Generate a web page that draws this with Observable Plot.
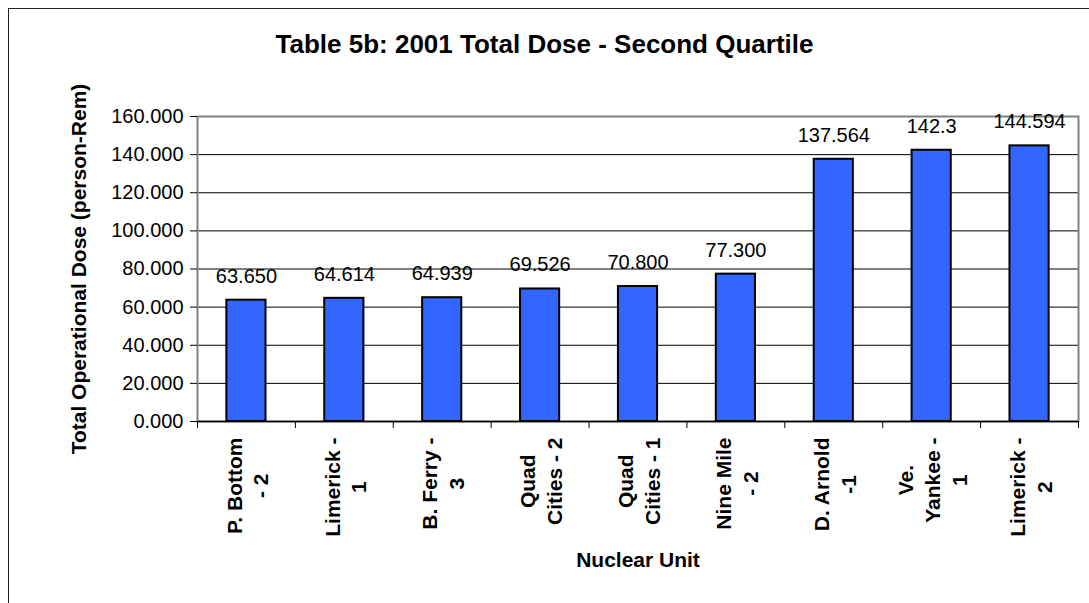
<!DOCTYPE html>
<html><head><meta charset="utf-8">
<script src="https://cdn.jsdelivr.net/npm/d3@7"></script>
<script src="https://cdn.jsdelivr.net/npm/@observablehq/plot@0.6"></script>
<style>
body{margin:0;background:#fff;}
#wrap{position:relative;width:1089px;height:603px;overflow:hidden;font-family:"Liberation Sans",Arial,sans-serif;background:#fff;}
#border{position:absolute;left:8px;top:8px;width:1200px;height:800px;border-left:1.5px solid #222;border-top:1.5px solid #222;}
#title{position:absolute;left:0;width:1089px;top:29px;line-height:30px;font-size:26px;font-weight:bold;text-align:center;color:#000;}
#chart{position:absolute;left:0;top:60px;}
</style></head><body>
<div id="wrap"><div id="border"></div><div id="title">Table 5b: 2001 Total Dose - Second Quartile</div><div id="chart"></div></div>
<script>
const categories = ["P. Bottom\n- 2", "Limerick -\n1", "B. Ferry -\n3", "Quad\nCities - 2", "Quad\nCities - 1", "Nine Mile\n- 2", "D. Arnold\n-1", "Ve.\nYankee -\n1", "Limerick -\n2"];
const values = [63.650, 64.614, 64.939, 69.526, 70.800, 77.300, 137.564, 142.3, 144.594];
const valueLabels = ["63.650", "64.614", "64.939", "69.526", "70.800", "77.300", "137.564", "142.3", "144.594"];
const yTicks = [0, 20, 40, 60, 80, 100, 120, 140, 160];
const yTitle = "Total Operational Dose (person-Rem)";
const xTitle = "Nuclear Unit";

const rows = categories.map((c, i) => ({i, name: c, value: values[i], label: valueLabels[i]}));

const plot = Plot.plot({
  width: 1089, height: 543,
  marginLeft: 197, marginRight: 11, marginTop: 56, marginBottom: 182,
  style: {fontFamily: '"Liberation Sans", Arial, sans-serif', fontSize: "20px", color: "#000", background: "transparent", overflow: "visible"},
  x: {domain: [0, categories.length], axis: null},
  y: {domain: [0, 160], axis: null},
  marks: [
    Plot.gridY(yTicks, {stroke: "#000", strokeOpacity: 1, strokeWidth: 1}),
    Plot.frame({stroke: "#808080", strokeWidth: 2}),
    Plot.rectY(rows, {x1: d => d.i + 0.3, x2: d => d.i + 0.7, y1: 0, y2: "value", fill: "#3366FF", stroke: "#000", strokeWidth: 2}),
    Plot.ruleY([0], {stroke: "#000", strokeWidth: 1.5}),
    Plot.axisY({ticks: yTicks, tickFormat: d3.format(".3f"), tickSize: 7, tickPadding: 7, fontSize: 20, label: null}),
    Plot.axisX({ticks: d3.range(categories.length + 1), tickFormat: () => "", tickSize: 7, label: null}),
    Plot.text(rows, {x: d => d.i + 0.5, y: "value", text: "label", dy: -24, fontSize: 20}),
    Plot.text(rows, {x: d => d.i + 0.5, text: "name", frameAnchor: "bottom", rotate: -90, textAnchor: "end", lineAnchor: "middle", dy: 16, fontWeight: "bold", fontSize: 21, lineHeight: 1.28, className: "xlab"}),
    Plot.text([yTitle], {text: d => d, frameAnchor: "left", rotate: -90, textAnchor: "middle", lineAnchor: "middle", dx: -118, fontWeight: "bold", fontSize: 21}),
    Plot.text([xTitle], {text: d => d, frameAnchor: "bottom", textAnchor: "middle", lineAnchor: "middle", dy: 139, fontWeight: "bold", fontSize: 21})
  ]
});
document.getElementById("chart").appendChild(plot);

// center the lines of each multi-line category label while keeping the block top-aligned
plot.querySelectorAll("g.xlab text").forEach(t => {
  const spans = t.querySelectorAll("tspan");
  if (!spans.length) return;
  let max = 0;
  spans.forEach(s => { max = Math.max(max, s.getComputedTextLength()); });
  t.setAttribute("text-anchor", "middle");
  spans.forEach(s => s.setAttribute("x", -max / 2));
});
</script>
</body></html>
